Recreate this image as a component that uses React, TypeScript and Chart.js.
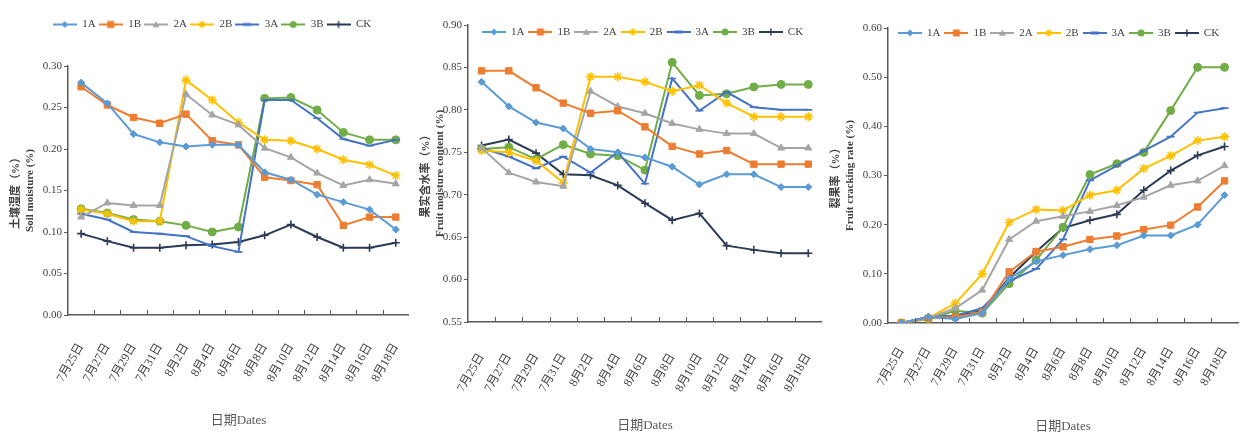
import React, { useEffect, useRef } from 'react';
import { Chart, registerables } from 'chart.js';

Chart.register(...registerables);

// ---------- data ----------
const dates = ['7月25日', '7月27日', '7月29日', '7月31日', '8月2日', '8月4日', '8月6日', '8月8日', '8月10日', '8月12日', '8月14日', '8月16日', '8月18日'];
const seriesNames = ['1A', '1B', '2A', '2B', '3A', '3B', 'CK'];

// Soil moisture (%)
const soil1A = [0.280, 0.255, 0.218, 0.208, 0.203, 0.205, 0.205, 0.172, 0.163, 0.145, 0.136, 0.127, 0.103];
const soil1B = [0.275, 0.253, 0.238, 0.231, 0.242, 0.210, 0.205, 0.166, 0.162, 0.157, 0.108, 0.118, 0.118];
const soil2A = [0.118, 0.135, 0.132, 0.132, 0.266, 0.241, 0.229, 0.201, 0.190, 0.171, 0.156, 0.163, 0.158];
const soil2B = [0.127, 0.122, 0.113, 0.113, 0.283, 0.259, 0.232, 0.211, 0.210, 0.200, 0.187, 0.181, 0.168];
const soil3A = [0.122, 0.115, 0.100, 0.098, 0.095, 0.083, 0.076, 0.259, 0.259, 0.237, 0.212, 0.204, 0.211];
const soil3B = [0.128, 0.123, 0.115, 0.113, 0.108, 0.100, 0.106, 0.261, 0.262, 0.247, 0.220, 0.211, 0.211];
const soilCK = [0.098, 0.089, 0.081, 0.081, 0.084, 0.085, 0.088, 0.096, 0.109, 0.094, 0.081, 0.081, 0.087];

// Fruit moisture content (%)
const fruit1A = [0.833, 0.804, 0.785, 0.778, 0.754, 0.750, 0.744, 0.733, 0.712, 0.724, 0.724, 0.709, 0.709];
const fruit1B = [0.846, 0.846, 0.826, 0.808, 0.796, 0.799, 0.780, 0.757, 0.748, 0.752, 0.736, 0.736, 0.736];
const fruit2A = [0.755, 0.726, 0.715, 0.710, 0.822, 0.804, 0.796, 0.784, 0.777, 0.772, 0.772, 0.755, 0.755];
const fruit2B = [0.752, 0.750, 0.740, 0.714, 0.839, 0.839, 0.833, 0.822, 0.829, 0.808, 0.792, 0.792, 0.792];
const fruit3A = [0.755, 0.745, 0.731, 0.745, 0.726, 0.750, 0.713, 0.837, 0.799, 0.821, 0.803, 0.800, 0.800];
const fruit3B = [0.754, 0.756, 0.742, 0.759, 0.748, 0.746, 0.729, 0.856, 0.817, 0.819, 0.827, 0.830, 0.830];
const fruitCK = [0.758, 0.765, 0.749, 0.724, 0.723, 0.711, 0.690, 0.670, 0.678, 0.640, 0.635, 0.631, 0.631];

// Fruit cracking rate (%)
const crack1A = [0.000, 0.012, 0.008, 0.020, 0.090, 0.125, 0.138, 0.150, 0.158, 0.178, 0.178, 0.200, 0.260];
const crack1B = [0.000, 0.010, 0.012, 0.022, 0.104, 0.145, 0.155, 0.170, 0.177, 0.190, 0.199, 0.236, 0.289];
const crack2A = [0.000, 0.010, 0.030, 0.067, 0.170, 0.207, 0.217, 0.227, 0.239, 0.256, 0.280, 0.289, 0.320];
const crack2B = [0.000, 0.010, 0.040, 0.100, 0.205, 0.231, 0.229, 0.260, 0.270, 0.314, 0.340, 0.371, 0.379];
const crack3A = [0.000, 0.012, 0.015, 0.030, 0.085, 0.110, 0.170, 0.290, 0.320, 0.350, 0.379, 0.428, 0.437];
const crack3B = [0.000, 0.008, 0.025, 0.020, 0.080, 0.128, 0.195, 0.302, 0.324, 0.347, 0.432, 0.520, 0.520];
const crackCK = [0.000, 0.012, 0.015, 0.025, 0.092, 0.145, 0.193, 0.209, 0.221, 0.270, 0.310, 0.341, 0.359];

const soilTitle = ['土壤湿度（%）', 'Soil moisture (%)'];
const fruitTitle = ['果实含水率（%）', 'Fruit moisture content (%)'];
const crackTitle = ['裂果率（%）', 'Fruit cracking rate (%)'];
const xTitle = '日期Dates';

// ---------- styles ----------
const seriesColors = ['#5B9BD5', '#ED7D31', '#A5A5A5', '#FFC000', '#4472C4', '#70AD47', '#2B3A55'];
const seriesMarkers = ['rectRot', 'rect', 'triangle', 'star', 'line', 'circle', 'cross'];
const seriesRadius = [3.5, 4.5, 4, 4.5, 4, 4, 4];
const FONT = "'Liberation Serif', 'Noto Sans CJK SC', serif";
const AXIS = '#595959';
const TEXT = '#404040';

Chart.defaults.font.family = FONT;

function makeIcon(color: string, marker: string): HTMLCanvasElement {
  const c = document.createElement('canvas');
  c.width = 24;
  c.height = 10;
  const g = c.getContext('2d')!;
  g.strokeStyle = color;
  g.fillStyle = color;
  g.lineWidth = 2;
  g.beginPath();
  g.moveTo(0, 5);
  g.lineTo(24, 5);
  g.stroke();
  const cx = 12, cy = 5, r = 3.5;
  g.lineWidth = 1.5;
  g.beginPath();
  switch (marker) {
    case 'rectRot':
      g.moveTo(cx, cy - r); g.lineTo(cx + r, cy); g.lineTo(cx, cy + r); g.lineTo(cx - r, cy); g.closePath(); g.fill();
      break;
    case 'rect':
      g.fillRect(cx - r, cy - r, 2 * r, 2 * r);
      break;
    case 'triangle':
      g.moveTo(cx, cy - r); g.lineTo(cx + r, cy + r * 0.8); g.lineTo(cx - r, cy + r * 0.8); g.closePath(); g.fill();
      break;
    case 'star':
      g.moveTo(cx - r, cy); g.lineTo(cx + r, cy); g.moveTo(cx, cy - r); g.lineTo(cx, cy + r);
      g.moveTo(cx - r * 0.7, cy - r * 0.7); g.lineTo(cx + r * 0.7, cy + r * 0.7);
      g.moveTo(cx - r * 0.7, cy + r * 0.7); g.lineTo(cx + r * 0.7, cy - r * 0.7); g.stroke();
      break;
    case 'line':
      g.lineWidth = 3; g.moveTo(cx - 4, cy); g.lineTo(cx + 4, cy); g.stroke();
      break;
    case 'circle':
      g.arc(cx, cy, r, 0, Math.PI * 2); g.fill();
      break;
    case 'cross':
      g.moveTo(cx - r, cy); g.lineTo(cx + r, cy); g.moveTo(cx, cy - r); g.lineTo(cx, cy + r); g.stroke();
      break;
  }
  return c;
}

type PanelSpec = {
  left: number;
  width: number;
  series: number[][];
  yMin: number;
  yMax: number;
  yStep: number;
  yTitle: string[];
  outerLegend: boolean;
  legendExtra: number;
  innerLegendDx: number;
  innerLegendDy: number;
  pad: { left: number; right: number; top: number; bottom: number };
  yWidth: number;
  xHeight: number;
  xLabelGap: number;
};

function buildConfig(spec: PanelSpec): any {
  const icons = seriesColors.map((c, i) => makeIcon(c, seriesMarkers[i]));
  const datasets = seriesNames.map((name, i) => ({
    label: name,
    data: spec.series[i],
    borderColor: seriesColors[i],
    backgroundColor: seriesColors[i],
    pointBackgroundColor: seriesColors[i],
    pointBorderColor: seriesColors[i],
    pointStyle: seriesMarkers[i],
    pointRadius: seriesRadius[i],
    pointBorderWidth: ['star', 'cross', 'line'].includes(seriesMarkers[i]) ? 1.6 : 1,
    borderWidth: 2,
    tension: 0,
    fill: false,
  }));
  const spacer = {
    id: 'legendSpacer',
    beforeInit(chart: any) {
      const lg = chart.legend;
      if (!lg || !spec.outerLegend) return;
      const orig = lg.fit;
      lg.fit = function () {
        orig.call(this);
        this.height += spec.legendExtra;
      };
    },
  };
  const innerTicks = {
    id: 'innerTicks',
    afterDraw(chart: any) {
      const xs = chart.scales.x;
      const n = chart.data.labels.length;
      const ctx = chart.ctx;
      ctx.save();
      ctx.strokeStyle = AXIS;
      ctx.lineWidth = 1;
      ctx.beginPath();
      for (let i = 1; i < n; i++) {
        const px = Math.round(xs.getPixelForValue(i - 0.5)) + 0.5;
        ctx.moveTo(px, xs.top);
        ctx.lineTo(px, xs.top - 5);
      }
      ctx.stroke();
      ctx.restore();
    },
  };
  const innerLegend = {
    id: 'innerLegend',
    afterDraw(chart: any) {
      if (spec.outerLegend) return;
      const { ctx, chartArea } = chart;
      ctx.save();
      ctx.font = `11px ${FONT}`;
      ctx.fillStyle = TEXT;
      ctx.textBaseline = 'middle';
      ctx.textAlign = 'left';
      let x = chartArea.left + spec.innerLegendDx;
      const y = chartArea.top + spec.innerLegendDy;
      seriesNames.forEach((name, i) => {
        ctx.drawImage(icons[i], x, y - 5);
        ctx.fillText(name, x + 29, y);
        x += 29 + ctx.measureText(name).width + 4;
      });
      ctx.restore();
    },
  };
  return {
    type: 'line',
    data: { labels: dates, datasets },
    plugins: [spacer, innerTicks, innerLegend],
    options: {
      animation: false,
      responsive: false,
      events: [],
      layout: { padding: spec.pad },
      plugins: {
        tooltip: { enabled: false },
        legend: {
          display: spec.outerLegend,
          position: 'top',
          align: 'center',
          labels: {
            usePointStyle: true,
            pointStyleWidth: 24,
            padding: 3,
            color: TEXT,
            font: { size: 11, family: FONT },
            generateLabels: (chart: any) => {
              const items = Chart.defaults.plugins.legend.labels.generateLabels(chart);
              return items.map((it: any, i: number) => ({ ...it, pointStyle: icons[it.datasetIndex ?? i] }));
            },
          },
        },
      },
      scales: {
        x: {
          type: 'category',
          offset: true,
          grid: {
            offset: true,
            drawOnChartArea: false,
            drawTicks: true,
            tickLength: spec.xLabelGap,
            tickColor: 'rgba(0,0,0,0)',
            color: 'rgba(0,0,0,0)',
          },
          border: { color: AXIS, width: 1.5 },
          ticks: {
            autoSkip: false,
            minRotation: 60,
            maxRotation: 60,
            padding: 2,
            color: TEXT,
            font: { size: 12, family: FONT },
          },
          title: { display: true, text: xTitle, color: '#595959', font: { size: 13, family: FONT }, padding: { top: 4, bottom: 4 } },
          afterFit: (s: any) => { s.height = spec.xHeight; },
        },
        y: {
          type: 'linear',
          min: spec.yMin,
          max: spec.yMax,
          grid: { drawOnChartArea: false, drawTicks: true, tickLength: 4, color: AXIS },
          border: { color: AXIS, width: 1.5 },
          ticks: {
            stepSize: spec.yStep,
            padding: 2,
            color: TEXT,
            font: { size: 11, family: FONT },
            callback: (v: any) => Number(v).toFixed(2),
          },
          title: { display: true, text: spec.yTitle, color: TEXT, font: { size: 11, family: FONT, weight: 'bold' }, padding: 0 },
          afterFit: (s: any) => { s.width = spec.yWidth; },
        },
      },
    },
  };
}

function Panel({ spec }: { spec: PanelSpec }) {
  const ref = useRef<HTMLCanvasElement>(null);
  useEffect(() => {
    const chart = new Chart(ref.current as HTMLCanvasElement, buildConfig(spec));
    return () => chart.destroy();
  }, []);
  return (
    <div style={{ position: 'absolute', left: spec.left, top: 0, width: spec.width, height: 438 }}>
      <canvas ref={ref} width={spec.width} height={438} style={{ width: spec.width, height: 438, display: 'block' }} />
    </div>
  );
}

const panels: PanelSpec[] = [
  {
    left: 0, width: 415,
    series: [soil1A, soil1B, soil2A, soil2B, soil3A, soil3B, soilCK],
    yMin: 0, yMax: 0.3, yStep: 0.05, yTitle: soilTitle,
    outerLegend: true, legendExtra: 26, innerLegendDx: 0, innerLegendDy: 0,
    pad: { left: 10, right: 1, top: 16, bottom: 6 },
    yWidth: 58, xHeight: 117, xLabelGap: 24,
  },
  {
    left: 415, width: 413,
    series: [fruit1A, fruit1B, fruit2A, fruit2B, fruit3A, fruit3B, fruitCK],
    yMin: 0.55, yMax: 0.9, yStep: 0.05, yTitle: fruitTitle,
    outerLegend: false, legendExtra: 0, innerLegendDx: 14, innerLegendDy: 7,
    pad: { left: 5, right: 4, top: 25, bottom: 1 },
    yWidth: 48, xHeight: 115, xLabelGap: 27,
  },
  {
    left: 828, width: 427,
    series: [crack1A, crack1B, crack2A, crack2B, crack3A, crack3B, crackCK],
    yMin: 0, yMax: 0.6, yStep: 0.1, yTitle: crackTitle,
    outerLegend: false, legendExtra: 0, innerLegendDx: 10, innerLegendDy: 5,
    pad: { left: 2, right: 17, top: 28, bottom: 0 },
    yWidth: 58, xHeight: 115, xLabelGap: 20,
  },
];

export default function App() {
  return (
    <div style={{ position: 'absolute', left: 0, top: 0, width: 1255, height: 438, background: '#ffffff', overflow: 'hidden' }}>
      {panels.map((p, i) => (
        <Panel key={i} spec={p} />
      ))}
    </div>
  );
}
